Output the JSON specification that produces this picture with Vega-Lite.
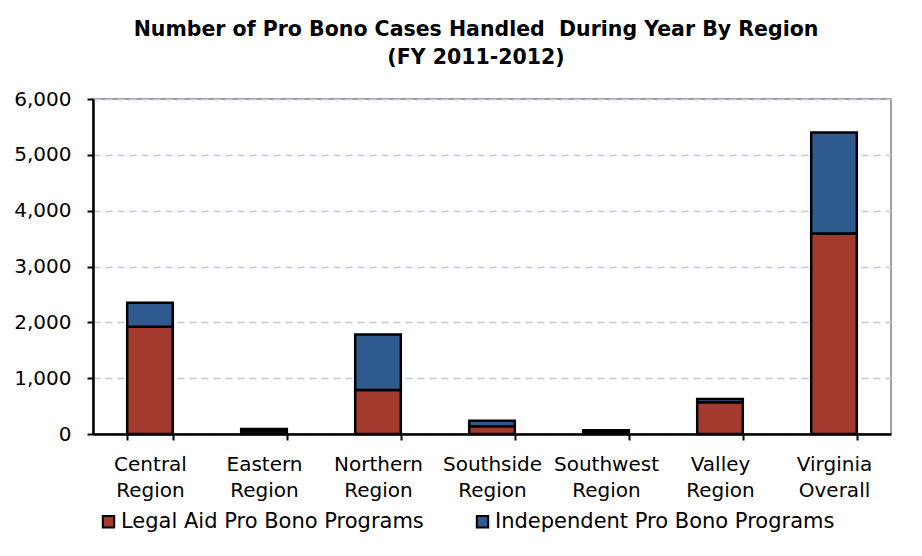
{
  "$schema": "https://vega.github.io/schema/vega-lite/v6.json",
  "width": 798,
  "height": 335,
  "autosize": {"type": "none"},
  "padding": {"left": 93, "top": 99, "right": 31, "bottom": 122},
  "background": "white",
  "title": {
    "text": ["Number of Pro Bono Cases Handled\u00a0 During Year By Region", "(FY 2011-2012)"],
    "font": "DejaVu Sans",
    "fontSize": 20.5,
    "fontWeight": "bold",
    "color": "black",
    "lineHeight": 28,
    "anchor": "middle",
    "dx": -16,
    "offset": 21
  },
  "data": {
    "values": [
      {"region": "Central Region", "series": "Legal Aid Pro Bono Programs", "cases": 1920},
      {"region": "Central Region", "series": "Independent Pro Bono Programs", "cases": 430},
      {"region": "Eastern Region", "series": "Legal Aid Pro Bono Programs", "cases": 50},
      {"region": "Eastern Region", "series": "Independent Pro Bono Programs", "cases": 40},
      {"region": "Northern Region", "series": "Legal Aid Pro Bono Programs", "cases": 790},
      {"region": "Northern Region", "series": "Independent Pro Bono Programs", "cases": 990},
      {"region": "Southside Region", "series": "Legal Aid Pro Bono Programs", "cases": 138},
      {"region": "Southside Region", "series": "Independent Pro Bono Programs", "cases": 100},
      {"region": "Southwest Region", "series": "Legal Aid Pro Bono Programs", "cases": 40},
      {"region": "Southwest Region", "series": "Independent Pro Bono Programs", "cases": 25},
      {"region": "Valley Region", "series": "Legal Aid Pro Bono Programs", "cases": 570},
      {"region": "Valley Region", "series": "Independent Pro Bono Programs", "cases": 55},
      {"region": "Virginia Overall", "series": "Legal Aid Pro Bono Programs", "cases": 3590},
      {"region": "Virginia Overall", "series": "Independent Pro Bono Programs", "cases": 1810}
    ]
  },
  "mark": {"type": "bar", "stroke": "black", "strokeWidth": 2.5},
  "encoding": {
    "x": {
      "field": "region",
      "type": "nominal",
      "sort": null,
      "scale": {"paddingInner": 0.6, "paddingOuter": 0.3},
      "axis": {
        "title": null,
        "labelAngle": 0,
        "labelExpr": "split(datum.label, ' ')",
        "labelFont": "DejaVu Sans",
        "labelFontSize": 20,
        "labelColor": "black",
        "labelLineHeight": 26,
        "labelPadding": 14,
        "labelLimit": 0,
        "tickBand": "extent",
        "tickColor": "black",
        "tickWidth": 2,
        "tickSize": 6,
        "domainColor": "black",
        "domainWidth": 2.5,
        "grid": false
      }
    },
    "y": {
      "field": "cases",
      "type": "quantitative",
      "stack": "zero",
      "scale": {"domain": [0, 6000], "nice": false},
      "axis": {
        "title": null,
        "values": [0, 1000, 2000, 3000, 4000, 5000, 6000],
        "format": ",d",
        "labelFont": "DejaVu Sans",
        "labelFontSize": 20,
        "labelColor": "black",
        "labelPadding": 16,
        "tickColor": "black",
        "tickWidth": 2,
        "tickSize": 6,
        "domainColor": "black",
        "domainWidth": 2.5,
        "grid": true,
        "gridColor": "#BCCAE3",
        "gridDash": [7, 5],
        "gridWidth": 1.5
      }
    },
    "color": {
      "field": "series",
      "type": "nominal",
      "scale": {
        "domain": ["Legal Aid Pro Bono Programs", "Independent Pro Bono Programs"],
        "range": ["#A33A2D", "#2F5A8F"]
      },
      "legend": {
        "title": null,
        "orient": "bottom",
        "direction": "horizontal",
        "symbolType": "square",
        "symbolSize": 130,
        "symbolStrokeColor": "black",
        "symbolStrokeWidth": 2,
        "symbolOpacity": 1,
        "labelFont": "DejaVu Sans",
        "labelFontSize": 21,
        "labelColor": "black",
        "labelOffset": 2,
        "labelLimit": 0,
        "columnPadding": 48,
        "padding": 5,
        "offset": 6
      }
    },
    "order": {"field": "series", "sort": "descending"}
  },
  "config": {
    "view": {"stroke": "#A0A0A0", "strokeWidth": 2}
  }
}
